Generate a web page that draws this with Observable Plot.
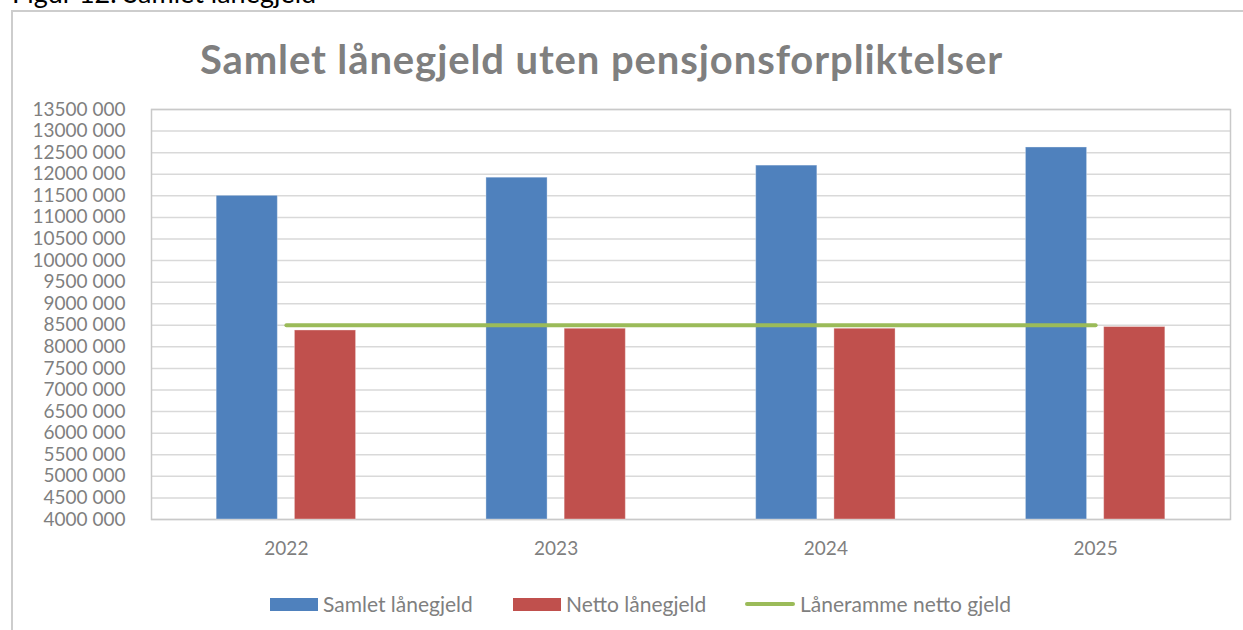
<!DOCTYPE html>
<html>
<head>
<meta charset="utf-8">
<script src="https://cdn.jsdelivr.net/npm/d3@7"></script>
<script src="https://cdn.jsdelivr.net/npm/@observablehq/plot@0.6"></script>
<style>
  html, body { margin: 0; padding: 0; background: #fff; }
  #wrap { position: relative; width: 1243px; height: 630px; overflow: hidden; font-family: Lato, "Open Sans", sans-serif; }
  #caption { position: absolute; left: 12px; top: -21px; font-size: 27px; line-height: 27px; color: #000; white-space: nowrap; }
  #border { position: absolute; left: 11px; top: 10px; width: 1400px; height: 800px; border: 2px solid #cdcdcd; box-sizing: border-box; }
  #title { position: absolute; left: 0; width: 1203px; top: 39px; text-align: center; font-size: 40px; line-height: 40px; letter-spacing: 0.9px; font-weight: 700; color: #7f7f7f; white-space: nowrap; }
  #chart { position: absolute; left: 0; top: 90px; }
  .leg { position: absolute; top: 593px; display: flex; align-items: center; font-size: 21px; line-height: 22px; color: #7f7f7f; white-space: nowrap; }
  .sw { display: inline-block; width: 48px; height: 13px; margin-right: 5px; }
  .ln { display: inline-block; width: 50px; height: 4.5px; border-radius: 2.5px; margin-right: 5px; }
</style>
</head>
<body>
<div id="wrap">
  <div id="caption">Figur 12. Samlet lånegjeld</div>
  <div id="border"></div>
  <div id="title">Samlet lånegjeld uten pensjonsforpliktelser</div>
  <div id="chart"></div>
  <div id="legend"></div>
</div>
<script>
// ---- data ----
const years = [2022, 2023, 2024, 2025];
const seriesNames = ["Samlet lånegjeld", "Netto lånegjeld"];
const samletLanegjeld = [11500000, 11920000, 12200000, 12620000];
const nettoLanegjeld = [8380000, 8420000, 8420000, 8460000];
const laneramme = [8500000, 8500000, 8500000, 8500000];
const lineName = "Låneramme netto gjeld";
const yDomain = [4000000, 13500000];
const yTicks = d3.range(4000000, 13500001, 500000);

const colors = {"Samlet lånegjeld": "#4F81BD", "Netto lånegjeld": "#C0504D", [lineName]: "#9BBB59"};

const barRows = [];
years.forEach((y, i) => {
  barRows.push({year: y, series: seriesNames[0], value: samletLanegjeld[i]});
  barRows.push({year: y, series: seriesNames[1], value: nettoLanegjeld[i]});
});
const lineRows = years.map((y, i) => ({year: y, value: laneramme[i]}));

// grouping of the two bars inside each year
const inner = d3.scaleBand().domain(seriesNames).range([-0.5, 0.5]).paddingInner(0.218).paddingOuter(0.833);

const fmtY = d => { const s = String(d); return s.slice(0, -3) + " " + s.slice(-3); };

const chart = Plot.plot({
  width: 1243,
  height: 480,
  marginTop: 19,
  marginBottom: 51,
  marginLeft: 151,
  marginRight: 13,
  style: {fontFamily: "Lato, 'Open Sans', sans-serif", fontSize: "19px", color: "#7f7f7f", background: "transparent", overflow: "visible"},
  x: {type: "linear", domain: [years[0] - 0.5, years[years.length - 1] + 0.5]},
  y: {domain: yDomain},
  marks: [
    Plot.gridY({ticks: yTicks, stroke: "#d9d9d9", strokeOpacity: 1, strokeWidth: 1.5}),
    Plot.frame({stroke: "#c9c9c9", strokeWidth: 1.5}),
    Plot.rectY(barRows, {
      x1: d => d.year + inner(d.series),
      x2: d => d.year + inner(d.series) + inner.bandwidth(),
      y1: yDomain[0],
      y2: "value",
      fill: d => colors[d.series],
      stroke: "#ffffff",
      strokeOpacity: 0.35,
      strokeWidth: 1
    }),
    Plot.lineY(lineRows, {x: "year", y: "value", stroke: colors[lineName], strokeWidth: 4, strokeLinecap: "round"}),
    Plot.axisY({ticks: yTicks, tickFormat: fmtY, tickSize: 0, tickPadding: 26, fill: "#7f7f7f", label: null}),
    Plot.axisX({ticks: years, tickFormat: d => String(d), tickSize: 0, tickPadding: 22, fill: "#7f7f7f", label: null})
  ]
});
document.getElementById("chart").appendChild(chart);

// ---- legend ----
const legend = document.getElementById("legend");
const legItems = [
  {name: seriesNames[0], kind: "sw", left: 270},
  {name: seriesNames[1], kind: "sw", left: 513},
  {name: lineName, kind: "ln", left: 745}
];
legItems.forEach(it => {
  const d = document.createElement("div");
  d.className = "leg";
  d.style.left = it.left + "px";
  const s = document.createElement("span");
  s.className = it.kind;
  s.style.background = colors[it.name];
  d.appendChild(s);
  const t = document.createElement("span");
  t.textContent = it.name;
  d.appendChild(t);
  legend.appendChild(d);
});
</script>
</body>
</html>
